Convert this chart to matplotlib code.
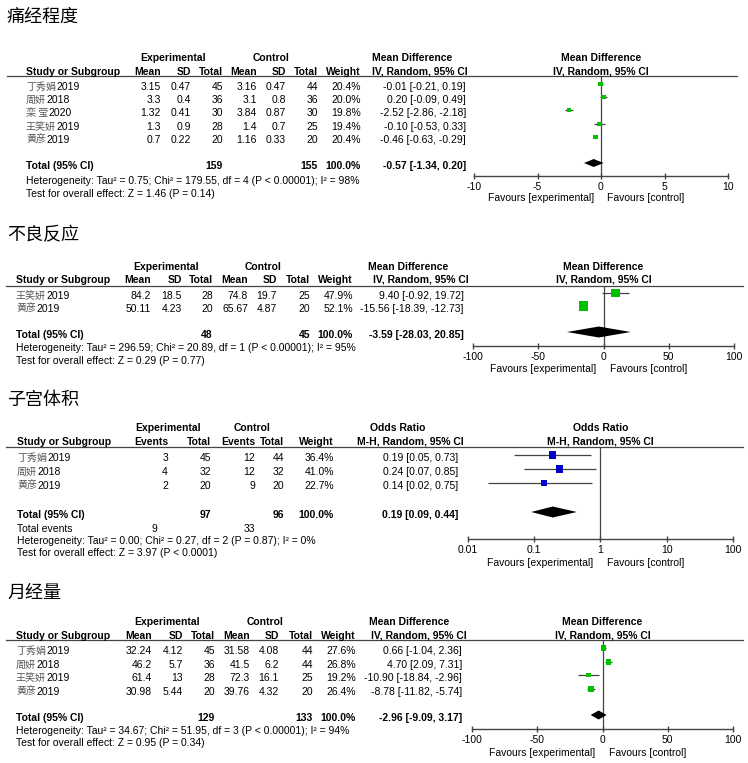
import matplotlib.pyplot as plt
from matplotlib.ticker import NullLocator

W, H = 748, 763
SANS = 'Liberation Sans'
CJK = 'Noto Sans CJK SC'
FS = 7.5
GREY = '#444444'
GREEN = '#00c000'
BLUE = '#0000c8'

# ---- 痛经程度 (mean difference) ----
pain_names = ['丁秀娟', '周妍', '栾 莹', '王笑妍', '黄彦']
pain_years = ['2019', '2018', '2020', '2019', '2019']
pain_exp_mean = [3.15, 3.3, 1.32, 1.3, 0.7]
pain_exp_sd = [0.47, 0.4, 0.41, 0.9, 0.22]
pain_exp_n = [45, 36, 30, 28, 20]
pain_ctl_mean = [3.16, 3.1, 3.84, 1.4, 1.16]
pain_ctl_sd = [0.47, 0.8, 0.87, 0.7, 0.33]
pain_ctl_n = [44, 36, 30, 25, 20]
pain_weight = [20.4, 20.0, 19.8, 19.4, 20.4]
pain_md = [-0.01, 0.20, -2.52, -0.10, -0.46]
pain_lo = [-0.21, -0.09, -2.86, -0.53, -0.63]
pain_hi = [0.19, 0.49, -2.18, 0.33, -0.29]
pain_total = [159, 155]
pain_pooled = [-0.57, -1.34, 0.20]
pain_het = 'Heterogeneity: Tau² = 0.75; Chi² = 179.55, df = 4 (P < 0.00001); I² = 98%'
pain_z = 'Test for overall effect: Z = 1.46 (P = 0.14)'

# ---- 不良反应 (mean difference) ----
ae_names = ['王笑妍', '黄彦']
ae_years = ['2019', '2019']
ae_exp_mean = [84.2, 50.11]
ae_exp_sd = [18.5, 4.23]
ae_exp_n = [28, 20]
ae_ctl_mean = [74.8, 65.67]
ae_ctl_sd = [19.7, 4.87]
ae_ctl_n = [25, 20]
ae_weight = [47.9, 52.1]
ae_md = [9.40, -15.56]
ae_lo = [-0.92, -18.39]
ae_hi = [19.72, -12.73]
ae_total = [48, 45]
ae_pooled = [-3.59, -28.03, 20.85]
ae_het = 'Heterogeneity: Tau² = 296.59; Chi² = 20.89, df = 1 (P < 0.00001); I² = 95%'
ae_z = 'Test for overall effect: Z = 0.29 (P = 0.77)'

# ---- 子宫体积 (odds ratio) ----
ut_names = ['丁秀娟', '周妍', '黄彦']
ut_years = ['2019', '2018', '2019']
ut_exp_events = [3, 4, 2]
ut_exp_n = [45, 32, 20]
ut_ctl_events = [12, 12, 9]
ut_ctl_n = [44, 32, 20]
ut_weight = [36.4, 41.0, 22.7]
ut_or = [0.19, 0.24, 0.14]
ut_lo = [0.05, 0.07, 0.02]
ut_hi = [0.73, 0.85, 0.75]
ut_total = [97, 96]
ut_total_events = [9, 33]
ut_pooled = [0.19, 0.09, 0.44]
ut_het = 'Heterogeneity: Tau² = 0.00; Chi² = 0.27, df = 2 (P = 0.87); I² = 0%'
ut_z = 'Test for overall effect: Z = 3.97 (P < 0.0001)'

# ---- 月经量 (mean difference) ----
mv_names = ['丁秀娟', '周妍', '王笑妍', '黄彦']
mv_years = ['2019', '2018', '2019', '2019']
mv_exp_mean = [32.24, 46.2, 61.4, 30.98]
mv_exp_sd = [4.12, 5.7, 13, 5.44]
mv_exp_n = [45, 36, 28, 20]
mv_ctl_mean = [31.58, 41.5, 72.3, 39.76]
mv_ctl_sd = [4.08, 6.2, 16.1, 4.32]
mv_ctl_n = [44, 44, 25, 20]
mv_weight = [27.6, 26.8, 19.2, 26.4]
mv_md = [0.66, 4.70, -10.90, -8.78]
mv_lo = [-1.04, 2.09, -18.84, -11.82]
mv_hi = [2.36, 7.31, -2.96, -5.74]
mv_total = [129, 133]
mv_pooled = [-2.96, -9.09, 3.17]
mv_het = 'Heterogeneity: Tau² = 34.67; Chi² = 51.95, df = 3 (P < 0.00001); I² = 94%'
mv_z = 'Test for overall effect: Z = 0.95 (P = 0.34)'

md_heads = ['Mean', 'SD', 'Total', 'Mean', 'SD', 'Total']
or_heads = ['Events', 'Total', 'Events', 'Total']
md_ticks = [[-10, -5, 0, 5, 10], [-100, -50, 0, 50, 100]]
or_ticks = [0.01, 0.1, 1, 10, 100]
or_ticklabels = ['0.01', '0.1', '1', '10', '100']

fig = plt.figure(figsize=(W / 100, H / 100), dpi=100)
bg = fig.add_axes([0, 0, 1, 1])
bg.set_xlim(0, W)
bg.set_ylim(H, 0)
bg.axis('off')


def put(x, y, s, ha='left', bold=False, **kw):
    kw.setdefault('family', SANS)
    kw.setdefault('fontsize', FS)
    return bg.text(x, y, s, ha=ha, va='center',
                   fontweight='bold' if bold else 'normal', **kw)


def study_label(x, y, name, year):
    t = put(x, y, name, family=CJK, fontsize=7.2, color='#555555')
    bg.annotate(year, xy=(1, 0.5), xycoords=t, va='center', ha='left',
                family=SANS, fontsize=FS)


def fmt(v):
    return f'{v:g}'


def draw_panel(L, title, names, years, cols, heads, weight, est, lo, hi,
               totals, tot_idx, pooled, het, ztest, ci_head, color, ticks,
               ticklabels=None, log=False, events=None):
    put(7, L['title'], title, family=CJK, fontsize=13)
    put(L['grp_x'][0], L['grp'], 'Experimental', ha='center', bold=True)
    put(L['grp_x'][1], L['grp'], 'Control', ha='center', bold=True)
    bg.plot([L['x0'], L['x1']], [L['line']] * 2, color=GREY, lw=0.9)

    put(L['left'], L['hdr'], 'Study or Subgroup', bold=True)
    for x, h in zip(L['cols'], heads + ['Weight']):
        put(x, L['hdr'], h, ha='right', bold=True)
    put(L['ci_hc'][0], L['grp'], ci_head[0], ha='center', bold=True)
    put(L['ci_hc'][1], L['hdr'], ci_head[1], ha='center', bold=True)

    cells = [[fmt(v) for v in c] for c in cols] + [[f'{w:.1f}%' for w in weight]]
    for i, y in enumerate(L['rows']):
        study_label(L['left'], y, names[i], years[i])
        for x, col in zip(L['cols'], cells):
            put(x, y, col[i], ha='right')
        put(L['ci_r'], y, f'{est[i]:.2f} [{lo[i]:.2f}, {hi[i]:.2f}]', ha='right')

    ty = L['total']
    put(L['left'], ty, 'Total (95% CI)', bold=True)
    put(L['cols'][tot_idx[0]], ty, str(totals[0]), ha='right', bold=True)
    put(L['cols'][tot_idx[1]], ty, str(totals[1]), ha='right', bold=True)
    put(L['cols'][-1], ty, '100.0%', ha='right', bold=True)
    put(L['ci_r'], ty, f'{pooled[0]:.2f} [{pooled[1]:.2f}, {pooled[2]:.2f}]',
        ha='right', bold=True)
    if events is not None:
        put(L['left'], L['events'], 'Total events')
        put(L['ev_x'][0], L['events'], str(events[0]), ha='right')
        put(L['ev_x'][1], L['events'], str(events[1]), ha='right')
    put(L['left'], L['het'], het)
    put(L['left'], L['z'], ztest)

    # forest plot
    fx0, fx1 = L['fx']
    ax = fig.add_axes([fx0 / W, 1 - L['axis'] / H, (fx1 - fx0) / W,
                       (L['axis'] - L['line']) / H])
    ax.patch.set_alpha(0)
    ax.set_ylim(L['axis'], L['line'])
    if log:
        ax.set_xscale('log')
    ax.set_xlim(ticks[0], ticks[-1])
    ax.set_xticks(ticks)
    ax.set_xticklabels(ticklabels if ticklabels else [str(t) for t in ticks],
                       family=SANS, fontsize=FS)
    ax.xaxis.set_minor_locator(NullLocator())
    ax.set_yticks([])
    for s in ['top', 'right', 'left']:
        ax.spines[s].set_visible(False)
    ax.spines['bottom'].set_color(GREY)
    ax.spines['bottom'].set_linewidth(1)
    ax.tick_params(axis='x', direction='inout', length=5, width=1,
                   color=GREY, pad=2)
    ref = 1 if log else 0
    ax.axvline(ref, color=GREY, lw=0.9)

    ys = [y - 3 for y in L['rows']]
    ax.hlines(ys, lo, hi, color=GREY, lw=0.9, zorder=2)
    sizes = [(L['k'] * w ** 0.5 * 0.72) ** 2 for w in weight]
    ax.scatter(est, ys, marker='s', s=sizes, c=color, linewidths=0, zorder=3)
    yd = ty - 3
    h = L['dh']
    ax.fill([pooled[1], pooled[0], pooled[2], pooled[0]],
            [yd, yd - h, yd, yd + h], color='black', zorder=3, lw=0)

    cx = (fx0 + fx1) / 2
    put(cx, L['grp'], ci_head[0], ha='center', bold=True)
    put(cx, L['hdr'], ci_head[1], ha='center', bold=True)
    ax.annotate('Favours [experimental]', xy=(ref, L['fav']), xytext=(-5, 0),
                textcoords='offset points', ha='right', va='center',
                family=SANS, fontsize=FS, annotation_clip=False)
    ax.annotate('Favours [control]', xy=(ref, L['fav']), xytext=(4.5, 0),
                textcoords='offset points', ha='left', va='center',
                family=SANS, fontsize=FS, annotation_clip=False)


L1 = dict(title=17, grp=58, hdr=72, line=76, rows=[87, 100, 113, 127, 140],
          total=166, het=181, z=194, left=26, x0=7, x1=737,
          cols=[161, 191, 223, 257, 286, 318, 361], ci_r=466,
          grp_x=[173, 271], ci_hc=[412, 420], fx=[474, 728], axis=176,
          fav=198, k=1.1, dh=4)
L2 = dict(title=235, grp=267, hdr=280, line=286, rows=[296, 309],
          total=335, het=348, z=361, left=16, x0=6, x1=743,
          cols=[151, 182, 213, 248, 277, 310, 353], ci_r=464,
          grp_x=[166, 263], ci_hc=[408, 421], fx=[473, 734], axis=346,
          fav=369, k=1.25, dh=5.5)
L3 = dict(title=400, grp=428, hdr=442, line=447, rows=[458, 472, 486],
          total=515, events=529, het=541, z=553, left=17, x0=6, x1=743,
          cols=[168, 211, 255, 284, 334], ci_r=458, ev_x=[157, 255],
          grp_x=[168, 252], ci_hc=[398, 410], fx=[468, 733], axis=539,
          fav=563, k=1.22, dh=5.5)
L4 = dict(title=593, grp=622, hdr=636, line=640, rows=[651, 665, 678, 692],
          total=718, het=731, z=743, left=16, x0=6, x1=743,
          cols=[152, 183, 215, 250, 279, 313, 356], ci_r=462,
          grp_x=[167, 265], ci_hc=[409, 419], fx=[472, 733], axis=729,
          fav=753, k=1.08, dh=4.5)

md_head = ['Mean Difference', 'IV, Random, 95% CI']
or_head = ['Odds Ratio', 'M-H, Random, 95% CI']

draw_panel(L1, '痛经程度', pain_names, pain_years,
           [pain_exp_mean, pain_exp_sd, pain_exp_n, pain_ctl_mean, pain_ctl_sd, pain_ctl_n],
           md_heads, pain_weight, pain_md, pain_lo, pain_hi, pain_total, [2, 5],
           pain_pooled, pain_het, pain_z, md_head, GREEN, md_ticks[0])
draw_panel(L2, '不良反应', ae_names, ae_years,
           [ae_exp_mean, ae_exp_sd, ae_exp_n, ae_ctl_mean, ae_ctl_sd, ae_ctl_n],
           md_heads, ae_weight, ae_md, ae_lo, ae_hi, ae_total, [2, 5],
           ae_pooled, ae_het, ae_z, md_head, GREEN, md_ticks[1])
draw_panel(L3, '子宫体积', ut_names, ut_years,
           [ut_exp_events, ut_exp_n, ut_ctl_events, ut_ctl_n],
           or_heads, ut_weight, ut_or, ut_lo, ut_hi, ut_total, [1, 3],
           ut_pooled, ut_het, ut_z, or_head, BLUE, or_ticks, or_ticklabels,
           log=True, events=ut_total_events)
draw_panel(L4, '月经量', mv_names, mv_years,
           [mv_exp_mean, mv_exp_sd, mv_exp_n, mv_ctl_mean, mv_ctl_sd, mv_ctl_n],
           md_heads, mv_weight, mv_md, mv_lo, mv_hi, mv_total, [2, 5],
           mv_pooled, mv_het, mv_z, md_head, GREEN, md_ticks[1])

fig.savefig('out.png', dpi=100)
